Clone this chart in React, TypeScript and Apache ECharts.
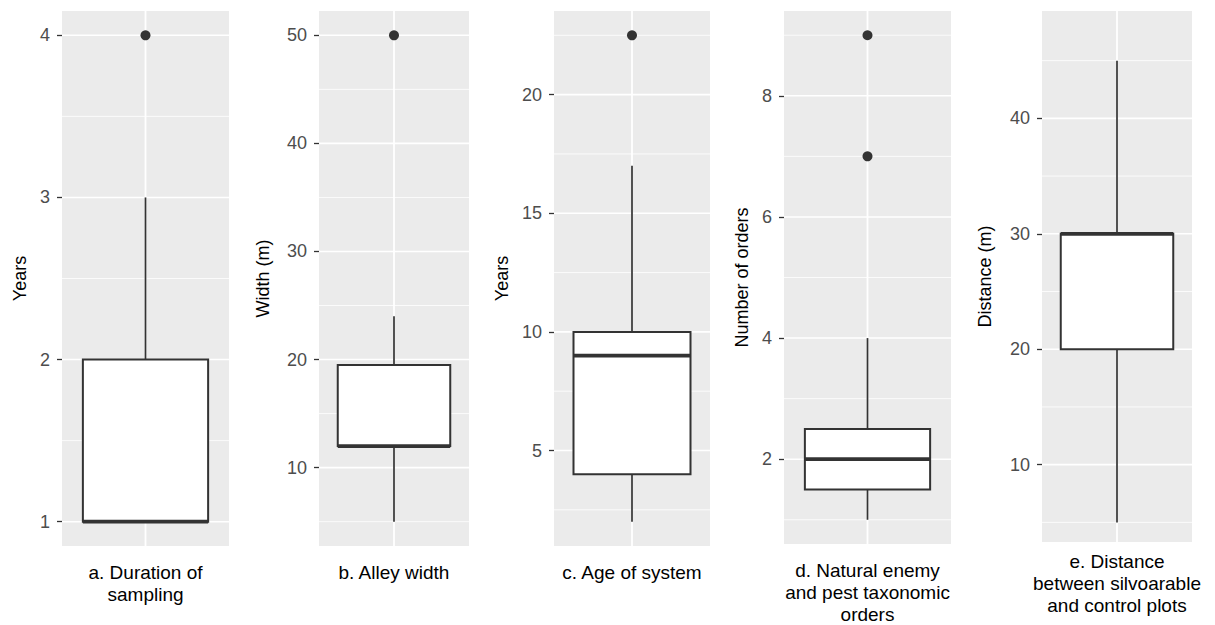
import React, { useEffect, useRef } from "react";
import * as echarts from "echarts";

// ---- data ----
const panelLabels = [
  "a. Duration of\nsampling",
  "b. Alley width",
  "c. Age of system",
  "d. Natural enemy\nand pest taxonomic\norders",
  "e. Distance\nbetween silvoarable\nand control plots",
];
const yTitles = ["Years", "Width (m)", "Years", "Number of orders", "Distance (m)"];
// [lower whisker, Q1, median, Q3, upper whisker]
const boxStats = [
  [1, 1, 1, 2, 3],
  [5, 12, 12, 19.5, 24],
  [2, 4, 9, 10, 17],
  [1, 1.5, 2, 2.5, 4],
  [5, 20, 30, 30, 45],
];
const outliers = [[4], [50], [22.5], [7, 9], []];
const yMin = [0.85, 2.75, 0.975, 0.6, 3.3];
const yMax = [4.15, 52.25, 23.525, 9.4, 49.3];
const majorTicks = [
  [1, 2, 3, 4],
  [10, 20, 30, 40, 50],
  [5, 10, 15, 20],
  [2, 4, 6, 8],
  [10, 20, 30, 40],
];
const minorTicks = [
  [1.5, 2.5, 3.5],
  [5, 15, 25, 35, 45],
  [2.5, 7.5, 12.5, 17.5, 22.5],
  [1, 3, 5, 7, 9],
  [5, 15, 25, 35, 45],
];

// ---- layout ----
const lefts = [62, 319, 554, 784, 1042];
const widths = [167, 150, 156, 167, 150];
const tops = [11, 11, 11, 11, 11];
const heights = [535, 535, 535, 535, 531];
const nameGaps = [33, 47, 43, 33, 48];
const xLabelMargins = [15, 15, 15, 15, 8];

const FONT = "'Liberation Sans', Arial, sans-serif";
const DARK = "#333333";

export default function App() {
  const ref = useRef<HTMLDivElement>(null);
  useEffect(() => {
    if (!ref.current) return;
    const chart = echarts.init(ref.current, null, { renderer: "svg" });

    const grid: any[] = [];
    const xAxis: any[] = [];
    const yAxis: any[] = [];
    const series: any[] = [];

    panelLabels.forEach((label, i) => {
      grid.push({
        left: lefts[i],
        top: tops[i],
        width: widths[i],
        height: heights[i],
        show: true,
        backgroundColor: "#EBEBEB",
        borderWidth: 0,
      });
      xAxis.push({
        type: "category",
        gridIndex: i,
        data: [label],
        boundaryGap: true,
        axisLine: { show: false },
        axisTick: { show: false },
        splitLine: { show: false },
        axisLabel: {
          interval: 0,
          color: "#000",
          fontSize: 19,
          lineHeight: 22,
          fontFamily: FONT,
          margin: xLabelMargins[i],
          align: "center",
        },
      });
      yAxis.push({
        type: "value",
        gridIndex: i,
        min: yMin[i],
        max: yMax[i],
        axisLine: { show: false },
        splitLine: { show: false },
        axisTick: {
          show: true,
          length: 5,
          customValues: majorTicks[i],
          lineStyle: { color: DARK, width: 1.3 },
        },
        axisLabel: {
          customValues: majorTicks[i],
          color: "#4D4D4D",
          fontSize: 18,
          fontFamily: FONT,
          margin: 12,
        },
        name: yTitles[i],
        nameLocation: "middle",
        nameRotate: 90,
        nameGap: nameGaps[i],
        nameTextStyle: { color: "#000", fontSize: 18, fontFamily: FONT },
      });

      // gridlines (white) drawn through the axes' scales
      const gridData: any[] = [];
      majorTicks[i].forEach((v) => gridData.push([0, v, 1]));
      minorTicks[i].forEach((v) => gridData.push([0, v, 0]));
      gridData.push([0, yMin[i], 2]);
      series.push({
        type: "custom",
        xAxisIndex: i,
        yAxisIndex: i,
        z: 1,
        silent: true,
        encode: { x: 0, y: 1 },
        data: gridData,
        renderItem: (params: any, api: any) => {
          const cs = params.coordSys;
          const flag = api.value(2);
          const p = api.coord([api.value(0), api.value(1)]);
          if (flag === 2) {
            return {
              type: "line",
              shape: { x1: p[0], y1: cs.y, x2: p[0], y2: cs.y + cs.height },
              style: { stroke: "#FFFFFF", lineWidth: 1.8 },
            };
          }
          return {
            type: "line",
            shape: { x1: cs.x, y1: p[1], x2: cs.x + cs.width, y2: p[1] },
            style: { stroke: "#FFFFFF", lineWidth: flag === 1 ? 1.6 : 0.8 },
          };
        },
      });

      // boxplot
      const s = boxStats[i];
      series.push({
        type: "custom",
        xAxisIndex: i,
        yAxisIndex: i,
        z: 3,
        silent: true,
        encode: { x: 0, y: [1, 2, 3, 4, 5] },
        data: [[0, s[0], s[1], s[2], s[3], s[4]]],
        renderItem: (params: any, api: any) => {
          const x = api.value(0);
          const pLo = api.coord([x, api.value(1)]);
          const pQ1 = api.coord([x, api.value(2)]);
          const pMed = api.coord([x, api.value(3)]);
          const pQ3 = api.coord([x, api.value(4)]);
          const pHi = api.coord([x, api.value(5)]);
          const bw = api.size([1, 0])[0] * 0.75;
          const cx = pLo[0];
          return {
            type: "group",
            children: [
              {
                type: "line",
                shape: { x1: cx, y1: pHi[1], x2: cx, y2: pQ3[1] },
                style: { stroke: DARK, lineWidth: 1.7 },
              },
              {
                type: "line",
                shape: { x1: cx, y1: pQ1[1], x2: cx, y2: pLo[1] },
                style: { stroke: DARK, lineWidth: 1.7 },
              },
              {
                type: "rect",
                shape: { x: cx - bw / 2, y: pQ3[1], width: bw, height: pQ1[1] - pQ3[1] },
                style: { fill: "#FFFFFF", stroke: DARK, lineWidth: 2 },
              },
              {
                type: "line",
                shape: { x1: cx - bw / 2, y1: pMed[1], x2: cx + bw / 2, y2: pMed[1] },
                style: { stroke: DARK, lineWidth: 3.8 },
              },
            ],
          };
        },
      });

      // outliers
      series.push({
        type: "scatter",
        xAxisIndex: i,
        yAxisIndex: i,
        z: 4,
        silent: true,
        symbol: "circle",
        symbolSize: 10,
        itemStyle: { color: DARK, opacity: 1 },
        data: outliers[i].map((v) => [0, v]),
      });
    });

    chart.setOption({
      animation: false,
      backgroundColor: "#FFFFFF",
      grid,
      xAxis,
      yAxis,
      series,
    });
    return () => chart.dispose();
  }, []);

  return (
    <div
      ref={ref}
      style={{ position: "fixed", left: 0, top: 0, width: 1215, height: 625 }}
    />
  );
}
